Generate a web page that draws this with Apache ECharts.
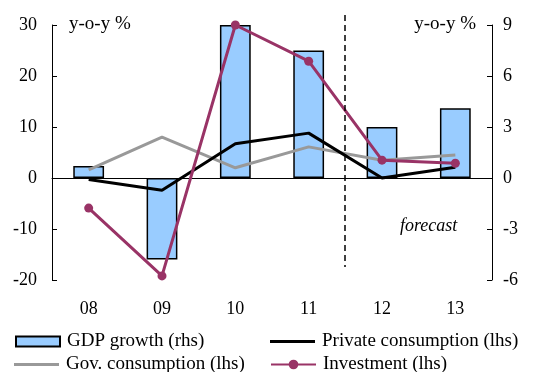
<!DOCTYPE html>
<html>
<head>
<meta charset="utf-8">
<script src="https://cdn.jsdelivr.net/npm/echarts@6/dist/echarts.min.js"></script>
<style>
  html, body { margin: 0; padding: 0; background: #fff; }
  #main { width: 534px; height: 372px; }
</style>
</head>
<body>
<div id="main"></div>
<script>
// data
const years = ['08', '09', '10', '11', '12', '13'];
const gdpGrowth = [0.7, -4.8, 9.0, 7.5, 3.0, 4.1];        // rhs
const privateCons = [-0.3, -2.4, 6.7, 8.8, 0.0, 2.1];     // lhs
const govCons = [1.6, 8.0, 2.0, 6.1, 3.5, 4.5];           // lhs
const investment = [-5.9, -19.2, 30.0, 22.9, 3.5, 2.9];   // lhs
const forecastAfter = '11'; // dashed separator sits between 11 and 12

const font = '"Liberation Serif", "DejaVu Serif", serif';
const chart = echarts.init(document.getElementById('main'));

const legendBase = {
  padding: 0, itemGap: 0, selectedMode: false, itemWidth: 45, itemHeight: 12,
  textStyle: { fontSize: 19, color: '#000', fontFamily: font, padding: [0, 0, 0, 2] }
};

const option = {
  animation: false,
  textStyle: { fontFamily: font },
  grid: { left: 52, right: 42, top: 25, bottom: 92, containLabel: false, outerBoundsMode: 'none' },
  xAxis: [
    {
      // zero line with ticks between years
      type: 'category', data: years, position: 'bottom',
      axisLine: { onZero: true, onZeroAxisIndex: 0, lineStyle: { color: '#000', width: 1 } },
      axisTick: { inside: true, length: 5, lineStyle: { color: '#000' } },
      axisLabel: { show: false }
    },
    {
      // year labels under the plot
      type: 'category', data: years, position: 'bottom',
      axisLine: { show: false, onZero: false },
      axisTick: { show: false },
      axisLabel: { margin: 20, color: '#000', fontSize: 18, fontFamily: font }
    }
  ],
  yAxis: [
    {
      type: 'value', min: -20, max: 30, interval: 10,
      splitLine: { show: false },
      axisLine: { show: true, onZero: false, lineStyle: { color: '#000' } },
      axisTick: { show: true, inside: true, length: 5, lineStyle: { color: '#000' } },
      axisLabel: { color: '#000', fontSize: 18, fontFamily: font, margin: 15 }
    },
    {
      type: 'value', min: -6, max: 9, interval: 3,
      splitLine: { show: false },
      axisLine: { show: true, onZero: false, lineStyle: { color: '#000' } },
      axisTick: { show: true, inside: true, length: 5, lineStyle: { color: '#000' } },
      axisLabel: { color: '#000', fontSize: 18, fontFamily: font, margin: 11 }
    }
  ],
  legend: [
    { data: [{ name: 'GDP growth (rhs)', icon: 'rect' }], left: 15, top: 332, itemWidth: 44, itemHeight: 10 },
    { data: [{ name: 'Private consumption (lhs)', icon: 'rect' }], left: 270, top: 332, itemHeight: 3 },
    { data: [{ name: 'Gov. consumption (lhs)', icon: 'rect' }], left: 14, top: 355, itemHeight: 3 },
    { data: ['Investment (lhs)'], left: 270, top: 355 }
  ].map(l => Object.assign({}, legendBase, l)),
  series: [
    {
      name: 'GDP growth (rhs)', type: 'bar', yAxisIndex: 1, data: gdpGrowth,
      barWidth: '42%',
      itemStyle: { color: '#99CCFF', borderColor: '#000', borderWidth: 1.5 },
      z: 1
    },
    {
      name: 'Private consumption (lhs)', type: 'line', yAxisIndex: 0, data: privateCons,
      symbol: 'none', lineStyle: { color: '#000', width: 3 }, itemStyle: { color: '#000' }, z: 3
    },
    {
      name: 'Gov. consumption (lhs)', type: 'line', yAxisIndex: 0, data: govCons,
      symbol: 'none', lineStyle: { color: '#999', width: 3 }, itemStyle: { color: '#999' }, z: 2
    },
    {
      name: 'Investment (lhs)', type: 'line', yAxisIndex: 0, data: investment,
      symbol: 'circle', symbolSize: 9,
      lineStyle: { color: '#993366', width: 3 }, itemStyle: { color: '#993366' }, z: 4
    }
  ]
};
chart.setOption(option);

// separator between actual and forecast years, labels
const idx = years.indexOf(forecastAfter);
const xa = chart.convertToPixel({ xAxisIndex: 0 }, years[idx]);
const xb = chart.convertToPixel({ xAxisIndex: 0 }, years[idx + 1]);
const xSep = Math.round((xa + xb) / 2);
const yTop = chart.convertToPixel({ yAxisIndex: 0 }, 30) - 10;
const yBot = chart.convertToPixel({ yAxisIndex: 0 }, -20) - 13;

chart.setOption({
  graphic: [
    {
      type: 'line', z: 10,
      shape: { x1: xSep, y1: yTop, x2: xSep, y2: yBot },
      style: { stroke: '#000', lineWidth: 1.5, lineDash: [6, 4] }
    },
    {
      type: 'text', left: 69, top: 15,
      style: { text: 'y-o-y %', font: '19px ' + font, fill: '#000' }
    },
    {
      type: 'text', right: 58, top: 15,
      style: { text: 'y-o-y %', font: '19px ' + font, fill: '#000' }
    },
    {
      type: 'text', left: 400, top: 217,
      style: { text: 'forecast', font: 'italic 18px ' + font, fill: '#000' }
    }
  ]
});
</script>
</body>
</html>
